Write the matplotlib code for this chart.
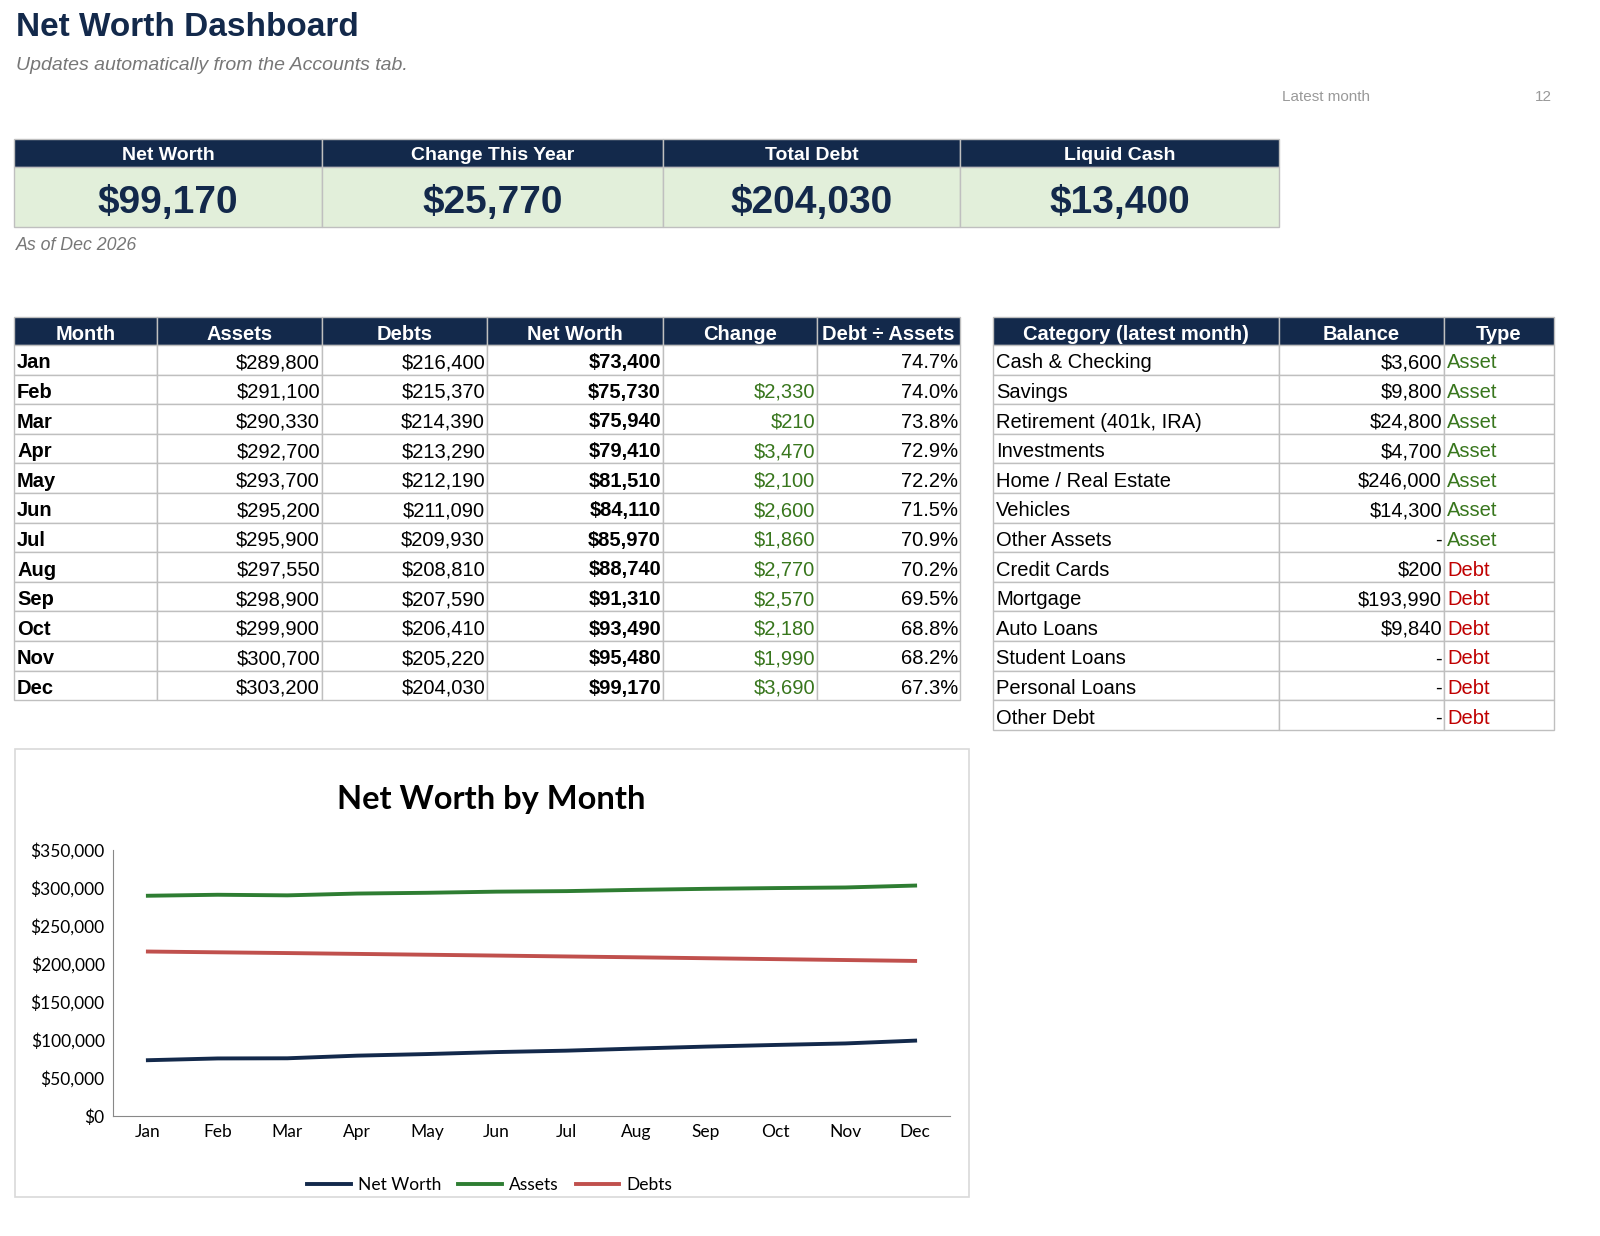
import matplotlib.pyplot as plt
from matplotlib.patches import Rectangle
from matplotlib.ticker import FuncFormatter

# ---- data ----
months = ['Jan', 'Feb', 'Mar', 'Apr', 'May', 'Jun', 'Jul', 'Aug', 'Sep', 'Oct', 'Nov', 'Dec']
assets = [289800, 291100, 290330, 292700, 293700, 295200, 295900, 297550, 298900, 299900, 300700, 303200]
debts = [216400, 215370, 214390, 213290, 212190, 211090, 209930, 208810, 207590, 206410, 205220, 204030]
net_worth = [73400, 75730, 75940, 79410, 81510, 84110, 85970, 88740, 91310, 93490, 95480, 99170]
change = [None, 2330, 210, 3470, 2100, 2600, 1860, 2770, 2570, 2180, 1990, 3690]
debt_ratio = [74.7, 74.0, 73.8, 72.9, 72.2, 71.5, 70.9, 70.2, 69.5, 68.8, 68.2, 67.3]

categories = ['Cash & Checking', 'Savings', 'Retirement (401k, IRA)', 'Investments',
              'Home / Real Estate', 'Vehicles', 'Other Assets', 'Credit Cards', 'Mortgage',
              'Auto Loans', 'Student Loans', 'Personal Loans', 'Other Debt']
balances = [3600, 9800, 24800, 4700, 246000, 14300, 0, 200, 193990, 9840, 0, 0, 0]
types = ['Asset'] * 7 + ['Debt'] * 6

kpi_labels = ['Net Worth', 'Change This Year', 'Total Debt', 'Liquid Cash']
kpi_values = ['$99,170', '$25,770', '$204,030', '$13,400']

NAVY = '#13294b'
GREEN = '#38761d'
RED = '#c00000'
GRID = '#bfbfbf'
FONT = ['Liberation Sans', 'DejaVu Sans']
CHART_FONT = ['Lato', 'DejaVu Sans']


def money(v):
    return '-' if v == 0 else '${:,.0f}'.format(v)


fig = plt.figure(figsize=(16, 12.36), dpi=100)
ax = fig.add_axes([0, 0, 1, 1])
ax.set_xlim(0, 1600)
ax.set_ylim(1236, 0)
ax.axis('off')

ax.text(16, 27, 'Net Worth Dashboard', fontsize=24, fontweight='bold', color=NAVY,
        va='center', family=FONT)
ax.text(16, 66, 'Updates automatically from the Accounts tab.', fontsize=14,
        style='italic', color='#777777', va='center', family=FONT)
ax.text(1282, 97, 'Latest month', fontsize=11, color='#999999', va='center', family=FONT)
ax.text(1552, 97, '12', fontsize=11, color='#999999', va='center', ha='right', family=FONT)

# ---- KPI cards ----
kx = [14, 322, 663, 960, 1279]
for i, (lab, val) in enumerate(zip(kpi_labels, kpi_values)):
    x0, x1 = kx[i], kx[i + 1]
    ax.add_patch(Rectangle((x0, 139), x1 - x0, 28, facecolor=NAVY, edgecolor=GRID, lw=1))
    ax.add_patch(Rectangle((x0, 167), x1 - x0, 60, facecolor='#e2efda', edgecolor=GRID, lw=1))
    ax.text((x0 + x1) / 2, 154, lab, color='white', fontsize=14, fontweight='bold',
            ha='center', va='center_baseline', family=FONT)
    ax.text((x0 + x1) / 2, 199, val, color=NAVY, fontsize=28, fontweight='bold',
            ha='center', va='center_baseline', family=FONT)
ax.text(16, 245, 'As of Dec 2026', fontsize=12.8, style='italic', color='#777777',
        va='center', family=FONT)


def table(cols, header, rows, top=317, hh=28, rh=29.6):
    for j, h in enumerate(header):
        ax.add_patch(Rectangle((cols[j], top), cols[j + 1] - cols[j], hh,
                               facecolor=NAVY, edgecolor=GRID, lw=1))
        ax.text((cols[j] + cols[j + 1]) / 2, top + hh / 2 + 1, h, color='white',
                fontsize=14.5, fontweight='bold', ha='center', va='center_baseline',
                family=FONT)
    for i, row in enumerate(rows):
        y0 = top + hh + i * rh
        for j, (txt, align, color, bold) in enumerate(row):
            ax.add_patch(Rectangle((cols[j], y0), cols[j + 1] - cols[j], rh,
                                   facecolor='white', edgecolor=GRID, lw=1))
            if align == 'left':
                x = cols[j] + 3
            else:
                x = cols[j + 1] - 2
            ax.text(x, y0 + rh / 2 + 1, txt, color=color, fontsize=14.5,
                    fontweight='bold' if bold else 'normal', ha=align,
                    va='center_baseline', family=FONT)


rows1 = []
for i, m in enumerate(months):
    rows1.append([
        (m, 'left', 'black', True),
        (money(assets[i]), 'right', 'black', False),
        (money(debts[i]), 'right', 'black', False),
        (money(net_worth[i]), 'right', 'black', True),
        ('' if change[i] is None else money(change[i]), 'right', GREEN, False),
        ('{:.1f}%'.format(debt_ratio[i]), 'right', 'black', False),
    ])
table([14, 157, 322, 487, 663, 817, 960],
      ['Month', 'Assets', 'Debts', 'Net Worth', 'Change', 'Debt \u00f7 Assets'], rows1)

rows2 = []
for c, b, t in zip(categories, balances, types):
    rows2.append([
        (c, 'left', 'black', False),
        (money(b), 'right', 'black', False),
        (t, 'left', GREEN if t == 'Asset' else RED, False),
    ])
table([993, 1279, 1444, 1554], ['Category (latest month)', 'Balance', 'Type'], rows2)

# ---- chart ----
ax.add_patch(Rectangle((15, 749), 954, 448, facecolor='white', edgecolor='#d9d9d9', lw=1.2))
ax.text(491, 799, 'Net Worth by Month', fontsize=23.5, fontweight='bold', color='black',
        ha='center', va='center', family=CHART_FONT)

cax = fig.add_axes([113 / 1600, (1236 - 1116) / 1236, (950 - 113) / 1600, (1116 - 850) / 1236])
x = range(len(months))
cax.plot(x, net_worth, color=NAVY, lw=2.8, label='Net Worth')
cax.plot(x, assets, color='#2e7d32', lw=2.8, label='Assets')
cax.plot(x, debts, color='#c0504d', lw=2.8, label='Debts')
cax.set_xlim(-0.5, 11.5)
cax.set_ylim(0, 350000)
cax.set_yticks(range(0, 350001, 50000))
cax.yaxis.set_major_formatter(FuncFormatter(lambda v, p: '${:,.0f}'.format(v)))
cax.set_xticks(list(x))
cax.set_xticklabels(months)
for s in ['top', 'right']:
    cax.spines[s].set_visible(False)
for s in ['left', 'bottom']:
    cax.spines[s].set_color('#888888')
cax.tick_params(length=0, labelsize=12.5, pad=6)
for lab in cax.get_xticklabels() + cax.get_yticklabels():
    lab.set_family(CHART_FONT)
cax.legend(loc='upper center', bbox_to_anchor=(0.45, -0.17), ncol=3, frameon=False,
           prop={'family': CHART_FONT, 'size': 12.5}, handlelength=2.5,
           columnspacing=1.0, handletextpad=0.4)

fig.savefig('out.png', dpi=100)
